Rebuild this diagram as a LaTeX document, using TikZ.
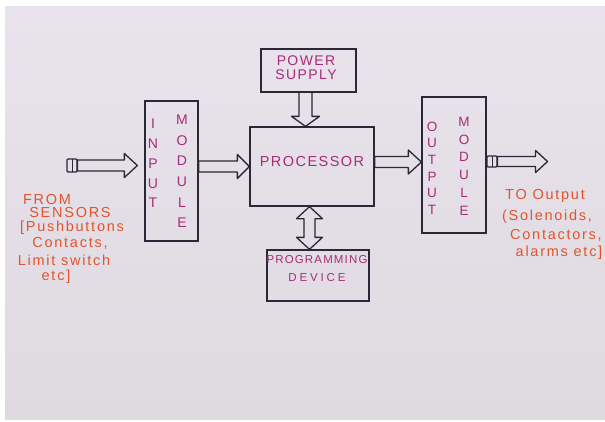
\documentclass[tikz,border=0pt]{standalone}
\usepackage{fontspec}
\setmainfont{Liberation Sans}
\newfontfamily\magfont{Liberation Sans}[LetterSpace=10]
\newfontfamily\notefont{Liberation Sans}[LetterSpace=12]
\usetikzlibrary{calc}
\definecolor{ink}{HTML}{2A2838}
\definecolor{magtext}{HTML}{A82A78}
\definecolor{orangetext}{HTML}{E2542C}
\definecolor{paperA}{HTML}{E9E3ED}
\definecolor{paperB}{HTML}{DEDADF}
\tikzset{
  box/.style={draw=ink, line width=1.3pt, inner sep=0pt},
  mtext/.style={text=magtext, inner sep=0pt, align=center},
  otext/.style={text=orangetext, inner sep=0pt, font=\notefont\fontsize{14.5}{16}\selectfont},
  plug/.style={draw=ink, line width=1.1pt, inner sep=0pt, minimum width=10pt, rounded corners=1pt,
    path picture={\draw[ink, line width=1pt] (path picture bounding box.north) -- (path picture bounding box.south);}},
  arrowline/.style={draw=ink, line width=1.3pt, line join=round},
  harrow/.style n args={3}{arrowline, to path={let \p1=(\tikztostart), \p2=(\tikztotarget) in
    (\x1,\y1+#1) -- (\x2-#3,\y1+#1) -- (\x2-#3,\y1+#2) -- (\x2,\y1) -- (\x2-#3,\y1-#2) -- (\x2-#3,\y1-#1) -- (\x1,\y1-#1) -- cycle}},
  varrow/.style n args={3}{arrowline, to path={let \p1=(\tikztostart), \p2=(\tikztotarget) in
    (\x1+#1,\y1) -- (\x1+#1,\y2+#3) -- (\x1+#2,\y2+#3) -- (\x1,\y2) -- (\x1-#2,\y2+#3) -- (\x1-#1,\y2+#3) -- (\x1-#1,\y1)}},
  dvarrow/.style n args={3}{arrowline, to path={let \p1=(\tikztostart), \p2=(\tikztotarget) in
    (\x1,\y1) -- (\x1+#2,\y1-#3) -- (\x1+#1,\y1-#3) -- (\x1+#1,\y2+#3) -- (\x1+#2,\y2+#3) -- (\x1,\y2)
    -- (\x1-#2,\y2+#3) -- (\x1-#1,\y2+#3) -- (\x1-#1,\y1-#3) -- (\x1-#2,\y1-#3) -- cycle}}
}
\begin{document}
\begin{tikzpicture}[x=1pt,y=-1pt]
\useasboundingbox (0,0) rectangle (605,421);
\fill[white] (0,0) rectangle (605,421);
\shade[top color=paperA, bottom color=paperB] (5,6) rectangle (605,419);

% boxes
\node[box, minimum width=53pt, minimum height=140pt] (inbox) at (171.5,171) {};
\node[box, minimum width=124pt, minimum height=79pt] (proc) at (312,166.5) {};
\node[box, minimum width=95pt, minimum height=43pt] (psu) at (308.5,70.5) {};
\node[box, minimum width=102pt, minimum height=51pt] (prog) at (318,275.5) {};
\node[box, minimum width=64pt, minimum height=136pt] (outbox) at (454,165) {};

% box texts
\node[mtext, font=\magfont\fontsize{14.5}{14}\selectfont] (proct) at (312,162) {PROCESSOR};
\node[mtext, font=\magfont\fontsize{14}{14}\selectfont] (psut) at (306,68) {POWER\\SUPPLY};
\node[mtext, font=\magfont\fontsize{11.5}{18}\selectfont] (progt) at (317,269) {PROGRAMMING\\{\addfontfeature{LetterSpace=25}DEVICE}};
\node[mtext, font=\magfont\fontsize{14}{19.75}\selectfont] (inI) at (153,163.5) {I\\N\\P\\U\\T};
\node[mtext, font=\magfont\fontsize{14}{20.7}\selectfont] (inM) at (182,171.25) {M\\O\\D\\U\\L\\E};
\node[mtext, font=\magfont\fontsize{13.5}{16.6}\selectfont] (outO) at (432,168) {O\\U\\T\\P\\U\\T};
\node[mtext, font=\magfont\fontsize{13.5}{17.9}\selectfont] (outM) at (464,166.25) {M\\O\\D\\U\\L\\E};

% plugs
\node[plug, minimum height=13pt] (plug1) at (72,165.5) {};
\node[plug, minimum height=11pt] (plug2) at (492,161.5) {};

% connector end points
\coordinate (a1e) at ($(inbox.west |- plug1.east)+(-7,0)$);
\coordinate (a2s) at (inbox.east |- proc.west);
\coordinate (a3s) at ([yshift=4.5pt]proc.east);
\coordinate (a3e) at (outbox.west |- a3s);
\coordinate (a4e) at ($(plug2.east)+(50,0)$);
\coordinate (a5s) at ([xshift=-3pt]psu.south);
\coordinate (a5e) at (proc.north -| a5s);
\coordinate (a6s) at ([xshift=-2.5pt]proc.south);
\coordinate (a6e) at (prog.north -| a6s);

% block arrows
\draw[harrow={5.5pt}{12pt}{13pt}] (plug1.east) to (a1e);
\draw[harrow={5.5pt}{12pt}{12pt}] (a2s) to (proc.west);
\draw[harrow={5.5pt}{12pt}{13pt}] (a3s) to (a3e);
\draw[harrow={5pt}{11pt}{12pt}] (plug2.east) to (a4e);
\draw[varrow={6.5pt}{14pt}{10pt}] (a5s) to (a5e);
\draw[dvarrow={5.5pt}{13pt}{12pt}] (a6s) to (a6e);

% left notes
\node[otext] (l1) at (47,200) {FROM};
\node[otext] (l2) at (70,213) {SENSORS};
\node[otext] (l3) at (72,228) {[Pushbuttons};
\node[otext] (l4) at (70,243) {Contacts,};
\node[otext] (l5) at (64,260) {Limit switch};
\node[otext] (l6) at (56,277) {etc]};

% right notes
\node[otext] (r1) at (545,196) {TO Output};
\node[otext] (r2) at (547,217) {(Solenoids,};
\node[otext] (r3) at (556,235) {Contactors,};
\node[otext] (r4) at (559,253) {alarms etc]};
\end{tikzpicture}
\end{document}
